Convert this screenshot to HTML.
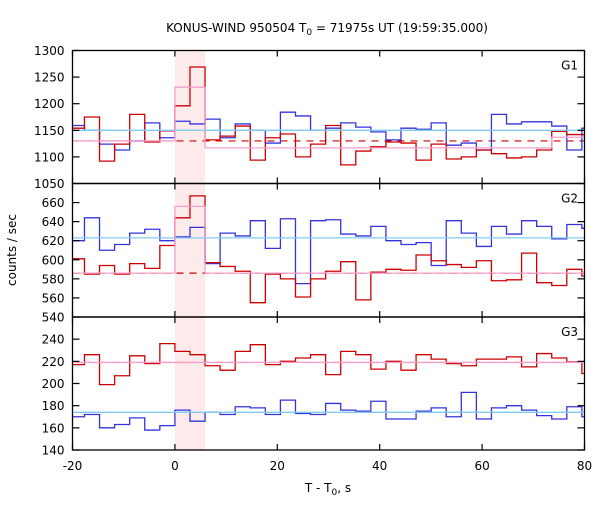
<!DOCTYPE html>
<html><head><meta charset="utf-8"><style>
body{margin:0;background:#fff}
svg text{font-family:"DejaVu Sans","Liberation Sans",sans-serif;font-size:12px;fill:#000}
</style></head><body>
<svg id="c" width="600" height="500" xmlns="http://www.w3.org/2000/svg">
<text x="327" y="32" text-anchor="middle">KONUS-WIND 950504 T<tspan font-size="9" dy="3">0</tspan><tspan dy="-3"> = 71975s UT (19:59:35.000)</tspan></text>
<text x="328" y="492" text-anchor="middle">T - T<tspan font-size="9" dy="3">0</tspan><tspan dy="-3">, s</tspan></text>
<text transform="translate(16,250) rotate(-90)" text-anchor="middle">counts / sec</text>
</svg>
<script>
const binWidth = 2.944;
const firstBin = -7;
const g1Red = [1154,1175,1092,1124,1180,1128,1149,1196,1269,1132,1139,1158,1094,1136,1143,1100,1124,1159,1085,1111,1119,1128,1126,1094,1124,1096,1100,1113,1106,1098,1100,1113,1148,1142,1142];
const g1Blue = [1159,1150,1124,1113,1130,1164,1136,1167,1162,1171,1136,1162,1150,1126,1184,1177,1150,1154,1164,1156,1147,1132,1154,1152,1164,1122,1126,1113,1180,1162,1166,1166,1158,1113,1154];
const g2Red = [601,585,594,585,596,591,615,644,667,597,593,588,555,585,580,561,580,588,598,558,587,590,589,605,599,595,592,599,578,579,607,576,573,590,583];
const g2Blue = [620,644,610,616,628,632,620,624,634,596,628,625,641,612,643,575,641,642,627,625,635,620,616,618,594,641,628,614,635,627,641,635,622,637,633];
const g3Red = [217,226,199,207,225,218,236,229,226,216,212,229,235,217,220,223,226,208,229,226,213,220,212,226,222,218,216,222,222,224,215,227,223,219.5,209];
const g3Blue = [170,172,160,163,169,158,162,176,166,174,172,179,178,172,185,173,172,182,176,175,184,168,168,175,178,170,192,168,178,180,176,171,168,179,170];
// levels: [tStart, tEnd, value]
const g1Cyan = [[-20,80,1150]];
const g1Pink = [[-20,0,1130],[0,5.888,1231],[5.888,73.6,1117],[73.6,80,1137]];
const g1Dash = 1130;
const g2Cyan = [[-20,80,623]];
const g2Pink = [[-20,0,586],[0,5.888,656],[5.888,80,586]];
const g2Dash = 586;
const g3Cyan = [[-20,80,174]];
const g3Pink = [[-20,80,219]];
const g3Dash = 219;
const xTicks = [-20,0,20,40,60,80];
const g1Ticks = [1050,1100,1150,1200,1250,1300];
const g2Ticks = [540,560,580,600,620,640,660];
const g3Ticks = [140,160,180,200,220,240];
const shade = [0,5.888];

const NS='http://www.w3.org/2000/svg';
const svg=document.getElementById('c');
const L=72.5,R=584.5;
const X=t=>L+(t+20)/100*(R-L);
function mk(tag,attrs,parent){const e=document.createElementNS(NS,tag);for(const k in attrs)e.setAttribute(k,attrs[k]);(parent||svg).appendChild(e);return e;}

// shaded
const sh=mk('rect',{x:X(shade[0]),y:50.5,width:X(shade[1])-X(shade[0]),height:400,fill:'#fdeaea'});



const panels=[
 {name:'g1',top:50.5,bot:183.5,min:1050,max:1300,red:g1Red,blue:g1Blue,cyan:g1Cyan,pink:g1Pink,dash:g1Dash,ticks:g1Ticks,lab:'G1'},
 {name:'g2',top:183.5,bot:317,min:540,max:680,red:g2Red,blue:g2Blue,cyan:g2Cyan,pink:g2Pink,dash:g2Dash,ticks:g2Ticks,lab:'G2'},
 {name:'g3',top:317,bot:450,min:140,max:260,red:g3Red,blue:g3Blue,cyan:g3Cyan,pink:g3Pink,dash:g3Dash,ticks:g3Ticks,lab:'G3'}
];
panels.forEach((p,i)=>{
 const Y=v=>p.bot-(v-p.min)/(p.max-p.min)*(p.bot-p.top);
 const g=mk('g',{});
 
 
 const clipId='clip'+i;
 const cp=mk('clipPath',{id:clipId},g);
 mk('rect',{x:L,y:p.top,width:R-L,height:p.bot-p.top},cp);
 const inner=mk('g',{'clip-path':'url(#'+clipId+')'},g);
 function step(vals,color,nm){
  let d='';
  vals.forEach((v,j)=>{const k=firstBin+j;const a=X(k*binWidth),b=X((k+1)*binWidth);
   d+=(j===0?'M':'L')+a.toFixed(2)+','+Y(v).toFixed(2)+'L'+b.toFixed(2)+','+Y(v).toFixed(2);});
  const e=mk('path',{d:d,fill:'none',stroke:color,'stroke-width':1.3},inner);
  
  
 }
 function levels(arr,color,nm){
  let d='';
  arr.forEach((s,j)=>{d+=(j===0?'M':'L')+X(s[0]).toFixed(2)+','+Y(s[2]).toFixed(2)+'L'+X(s[1]).toFixed(2)+','+Y(s[2]).toFixed(2);});
  const e=mk('path',{d:d,fill:'none',stroke:color,'stroke-width':1.3},inner);
  
  
 }
 const dl=mk('line',{x1:X(-20),x2:X(80),y1:Y(p.dash),y2:Y(p.dash),stroke:'#cc0000','stroke-width':1.2,'stroke-dasharray':'7,6'},inner);
 
 
 step(p.blue,'#3333dd',p.name+'-blue-series');
 step(p.red,'#cc0000',p.name+'-red-series');
 levels(p.cyan,'#80ccf0',p.name+'-cyan-fit');
 levels(p.pink,'#f5a0cc',p.name+'-pink-fit');
 // frame
 const fr=mk('rect',{x:L,y:p.top,width:R-L,height:p.bot-p.top,fill:'none',stroke:'#000','stroke-width':1.3},g);
 
 
 p.ticks.forEach(v=>{
  mk('line',{x1:L,x2:L+7,y1:Y(v),y2:Y(v),stroke:'#000','stroke-width':1.2},g);
  mk('line',{x1:R-7,x2:R,y1:Y(v),y2:Y(v),stroke:'#000','stroke-width':1.2},g);
  const t=mk('text',{x:L-8,y:Y(v)+4.5,'text-anchor':'end'},g);t.textContent=v;
  
  
 });
 xTicks.forEach(v=>{
  mk('line',{x1:X(v),x2:X(v),y1:p.top,y2:p.top+6,stroke:'#000','stroke-width':1.2},g);
  mk('line',{x1:X(v),x2:X(v),y1:p.bot-6,y2:p.bot,stroke:'#000','stroke-width':1.2},g);
 });
 const lb=mk('text',{x:578,y:p.top+19,'text-anchor':'end'},g);lb.textContent=p.lab;
 
 
});
xTicks.forEach(v=>{
 const t=mk('text',{x:X(v),y:470,'text-anchor':'middle'});t.textContent=v;
 
 
});
</script>
</body></html>
